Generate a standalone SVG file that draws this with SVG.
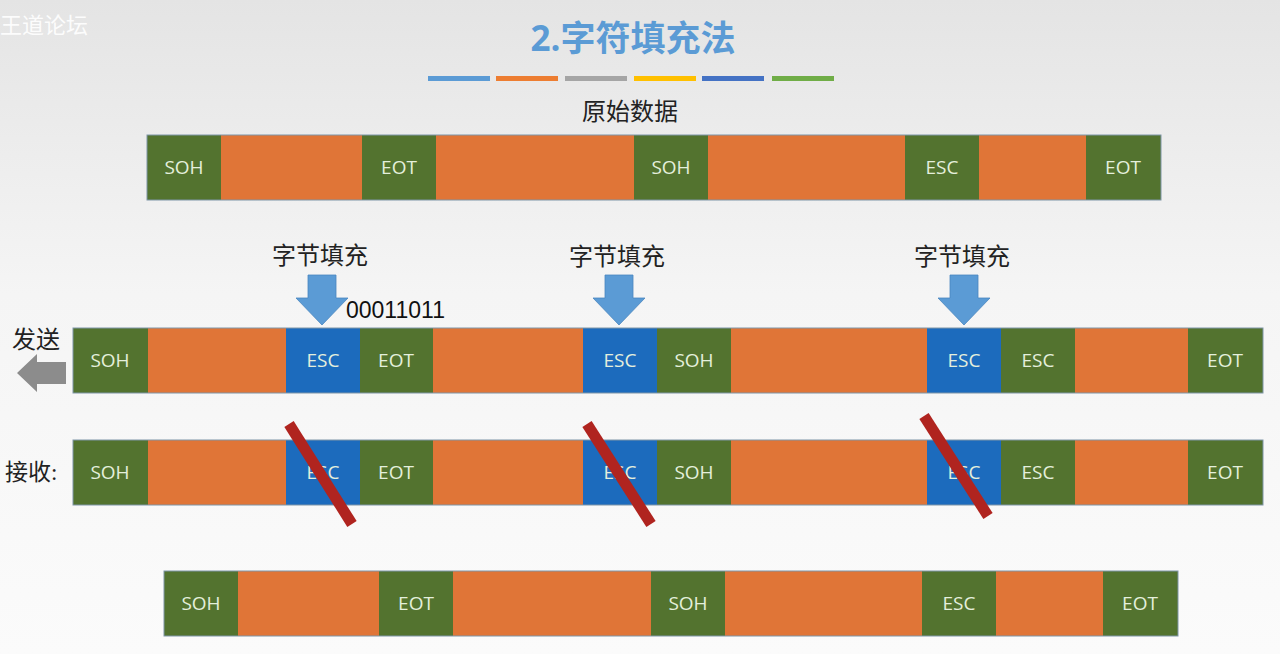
<svg xmlns="http://www.w3.org/2000/svg" width="1280" height="654" viewBox="0 0 1280 654">
<defs>
<linearGradient id="bg" x1="0" y1="0" x2="0" y2="1">
<stop offset="0" stop-color="#e4e4e4"/>
<stop offset="0.45" stop-color="#f5f5f5"/>
<stop offset="1" stop-color="#fbfbfb"/>
</linearGradient>
<style>
.g{fill:#53732f}
.o{fill:#e07537}
.b{fill:#1c6bbd}
.frame{fill:none;stroke:#7f96a8;stroke-width:1}
.lbl{font-family:"Open Sans","Liberation Sans",sans-serif;font-size:19px;fill:#e4efdc;text-anchor:middle}
.cn{font-family:"Liberation Serif","Noto Sans CJK SC",serif;font-size:24px;fill:#222;text-anchor:middle}
.slash{stroke:#b0241f;stroke-width:11}
.darrow{fill:#5b9bd5;stroke:#4a86bf;stroke-width:0.8}
</style>
</defs>
<rect width="1280" height="654" fill="url(#bg)"/>
<text x="0" y="33" font-family="Noto Sans CJK SC,sans-serif" font-size="22" fill="#ffffff" opacity="0.9">王道论坛</text>

<g id="title">
<text x="633" y="51" font-family="'Open Sans','Noto Sans CJK SC',sans-serif" font-size="35" font-weight="bold" fill="#5b9bd5" text-anchor="middle">2.字符填充法</text>
<rect x="428" y="76" width="62" height="5" fill="#5b9bd5"/>
<rect x="496" y="76" width="62" height="5" fill="#ed7d31"/>
<rect x="565" y="76" width="62" height="5" fill="#a5a5a5"/>
<rect x="634" y="76" width="62" height="5" fill="#ffc000"/>
<rect x="702" y="76" width="62" height="5" fill="#4472c4"/>
<rect x="772" y="76" width="62" height="5" fill="#70ad47"/>
</g>

<g id="original">
<text class="cn" x="630" y="120">原始数据</text>
<rect class="g" x="147" y="135" width="74" height="65"/>
<rect class="o" x="221" y="135" width="141" height="65"/>
<rect class="g" x="362" y="135" width="74" height="65"/>
<rect class="o" x="436" y="135" width="198" height="65"/>
<rect class="g" x="634" y="135" width="74" height="65"/>
<rect class="o" x="708" y="135" width="197" height="65"/>
<rect class="g" x="905" y="135" width="74" height="65"/>
<rect class="o" x="979" y="135" width="107" height="65"/>
<rect class="g" x="1086" y="135" width="75" height="65"/>
<rect class="frame" x="147" y="135" width="1014" height="65"/>
<text class="lbl" x="184" y="174">SOH</text>
<text class="lbl" x="399" y="174">EOT</text>
<text class="lbl" x="671" y="174">SOH</text>
<text class="lbl" x="942" y="174">ESC</text>
<text class="lbl" x="1123" y="174">EOT</text>
</g>

<g id="stuff-labels">
<text class="cn" x="320" y="264">字节填充</text>
<text class="cn" x="617" y="265">字节填充</text>
<text class="cn" x="962" y="265">字节填充</text>
<text x="346" y="318" font-family="'Liberation Sans',sans-serif" font-size="23" fill="#111">00011011</text>
</g>

<g id="stuff-arrows">
<path class="darrow" d="M308,275 H336 V298 H348 L322,325 L296,298 H308 Z"/>
<path class="darrow" d="M605,275 H633 V298 H645 L619,325 L593,298 H605 Z"/>
<path class="darrow" d="M950,275 H978 V298 H990 L964,325 L938,298 H950 Z"/>
</g>

<g id="send">
<text class="cn" x="36" y="348" font-size="26">发送</text>
<path d="M66,362 V384 H37 V392 L17,373 L37,354 V362 Z" fill="#8c8c8c"/>
<rect class="g" x="73" y="328" width="75" height="65"/>
<rect class="o" x="148" y="328" width="138" height="65"/>
<rect class="b" x="286" y="328" width="74" height="65"/>
<rect class="g" x="360" y="328" width="73" height="65"/>
<rect class="o" x="433" y="328" width="150" height="65"/>
<rect class="b" x="583" y="328" width="74" height="65"/>
<rect class="g" x="657" y="328" width="74" height="65"/>
<rect class="o" x="731" y="328" width="196" height="65"/>
<rect class="b" x="927" y="328" width="74" height="65"/>
<rect class="g" x="1001" y="328" width="74" height="65"/>
<rect class="o" x="1075" y="328" width="113" height="65"/>
<rect class="g" x="1188" y="328" width="75" height="65"/>
<rect class="frame" x="73" y="328" width="1190" height="65"/>
<text class="lbl" x="110" y="367">SOH</text>
<text class="lbl" x="323" y="367">ESC</text>
<text class="lbl" x="396" y="367">EOT</text>
<text class="lbl" x="620" y="367">ESC</text>
<text class="lbl" x="694" y="367">SOH</text>
<text class="lbl" x="964" y="367">ESC</text>
<text class="lbl" x="1038" y="367">ESC</text>
<text class="lbl" x="1225" y="367">EOT</text>
</g>

<g id="receive">
<text x="5" y="480" font-family="'Liberation Serif','Noto Sans CJK SC',serif" font-size="23" fill="#222">接收:</text>
<rect class="g" x="73" y="440" width="75" height="65"/>
<rect class="o" x="148" y="440" width="138" height="65"/>
<rect class="b" x="286" y="440" width="74" height="65"/>
<rect class="g" x="360" y="440" width="73" height="65"/>
<rect class="o" x="433" y="440" width="150" height="65"/>
<rect class="b" x="583" y="440" width="74" height="65"/>
<rect class="g" x="657" y="440" width="74" height="65"/>
<rect class="o" x="731" y="440" width="196" height="65"/>
<rect class="b" x="927" y="440" width="74" height="65"/>
<rect class="g" x="1001" y="440" width="74" height="65"/>
<rect class="o" x="1075" y="440" width="113" height="65"/>
<rect class="g" x="1188" y="440" width="75" height="65"/>
<rect class="frame" x="73" y="440" width="1190" height="65"/>
<text class="lbl" x="110" y="479">SOH</text>
<text class="lbl" x="323" y="479">ESC</text>
<text class="lbl" x="396" y="479">EOT</text>
<text class="lbl" x="620" y="479">ESC</text>
<text class="lbl" x="694" y="479">SOH</text>
<text class="lbl" x="964" y="479">ESC</text>
<text class="lbl" x="1038" y="479">ESC</text>
<text class="lbl" x="1225" y="479">EOT</text>
</g>

<g id="strikes">
<line class="slash" x1="289" y1="424" x2="352" y2="524"/>
<line class="slash" x1="587" y1="424" x2="651" y2="524"/>
<line class="slash" x1="924" y1="416" x2="988" y2="516"/>
</g>

<g id="result">
<rect class="g" x="164" y="571" width="74" height="65"/>
<rect class="o" x="238" y="571" width="141" height="65"/>
<rect class="g" x="379" y="571" width="74" height="65"/>
<rect class="o" x="453" y="571" width="198" height="65"/>
<rect class="g" x="651" y="571" width="74" height="65"/>
<rect class="o" x="725" y="571" width="197" height="65"/>
<rect class="g" x="922" y="571" width="74" height="65"/>
<rect class="o" x="996" y="571" width="107" height="65"/>
<rect class="g" x="1103" y="571" width="75" height="65"/>
<rect class="frame" x="164" y="571" width="1014" height="65"/>
<text class="lbl" x="201" y="610">SOH</text>
<text class="lbl" x="416" y="610">EOT</text>
<text class="lbl" x="688" y="610">SOH</text>
<text class="lbl" x="959" y="610">ESC</text>
<text class="lbl" x="1140" y="610">EOT</text>
</g>
</svg>
